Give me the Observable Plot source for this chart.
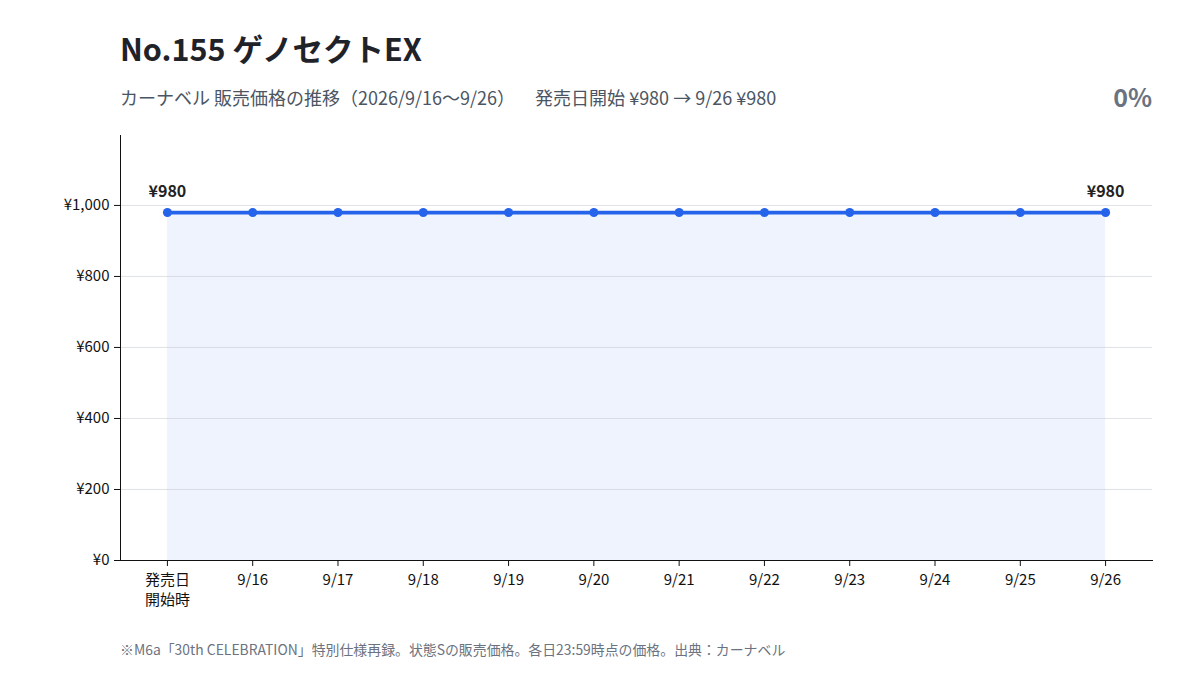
<!DOCTYPE html>
<html><head><meta charset="utf-8">
<script src="https://cdn.jsdelivr.net/npm/d3@7"></script>
<script src="https://cdn.jsdelivr.net/npm/@observablehq/plot@0.6"></script>
<style>
html,body{margin:0;padding:0;background:#fff;}
body{width:1200px;height:675px;position:relative;overflow:hidden;font-family:"Noto Sans CJK JP","Noto Sans",sans-serif;}
#title{position:absolute;left:120px;top:26px;font-size:30.5px;font-weight:700;color:#1f2329;line-height:44px;white-space:nowrap;}
#sub{position:absolute;left:120px;top:84px;font-size:18px;color:#4b5563;line-height:26px;white-space:nowrap;}
#pct{position:absolute;right:48px;top:80px;font-size:25px;font-weight:700;color:#6b7280;line-height:32px;}
#chart{position:absolute;left:0;top:120px;}
#foot{position:absolute;left:120px;top:638px;font-size:13.9px;color:#6b7280;line-height:22px;white-space:nowrap;}
</style></head>
<body>
<div id="title">No.155 ゲノセクトEX</div>
<div id="sub">カーナベル 販売価格の推移（2026/9/16〜9/26）<span style="display:inline-block;width:20px"></span>発売日開始 ¥980 → 9/26 ¥980</div>
<div id="pct">0%</div>
<div id="chart"></div>
<div id="foot">※M6a「30th CELEBRATION」特別仕様再録。状態Sの販売価格。各日23:59時点の価格。出典：カーナベル</div>
<script>
const dates = ["発売日\n開始時","9/16","9/17","9/18","9/19","9/20","9/21","9/22","9/23","9/24","9/25","9/26"];
const prices = [980,980,980,980,980,980,980,980,980,980,980,980];
const yTicks = [0,200,400,600,800,1000];

const data = dates.map((d,i)=>({date:d, price:prices[i]}));
const ends = [data[0], data[data.length-1]];
const yen = v => "¥" + d3.format(",")(v);

const chart = Plot.plot({
  width:1200, height:490,
  marginLeft:120, marginRight:48, marginTop:15, marginBottom:50,
  style:{fontFamily:'"Noto Sans CJK JP","Noto Sans",sans-serif', fontSize:"15px", color:"#111", background:"#fff"},
  x:{type:"point", domain:dates, padding:0.55, round:false, label:null},
  y:{domain:[0,1197], label:null},
  marks:[
    Plot.areaY(data,{x:"date", y:"price", fill:"#2563eb", fillOpacity:0.08}),
    Plot.gridY(yTicks,{stroke:"#c9ced6", strokeOpacity:0.6}),
    Plot.lineY(data,{x:"date", y:"price", stroke:"#2563eb", strokeWidth:3.8}),
    Plot.dot(data,{x:"date", y:"price", r:4.5, fill:"#2563eb"}),
    Plot.text(ends,{x:"date", y:"price", text:d=>yen(d.price), dy:-21, fontSize:16, fontWeight:700, fill:"#222"}),
    Plot.axisX({tickSize:6, tickPadding:5, fontSize:15, lineHeight:1.3, fill:"#111"}),
    Plot.axisY(yTicks,{tickFormat:yen, tickSize:6, tickPadding:5, fontSize:15, fill:"#111"}),
    Plot.frame({anchor:"bottom", stroke:"#111"}),
    Plot.frame({anchor:"left", stroke:"#111"})
  ]
});
document.getElementById("chart").appendChild(chart);
</script>
</body></html>
